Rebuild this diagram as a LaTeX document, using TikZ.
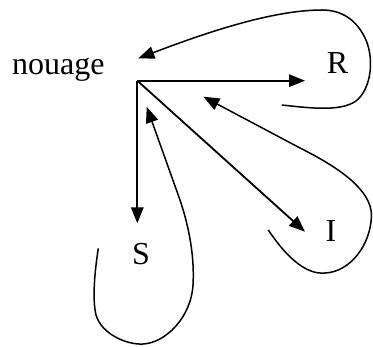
\documentclass[tikz,border=0pt]{standalone}
\usepackage{fontspec}
\setmainfont{Liberation Serif}
\usetikzlibrary{arrows.meta}
\begin{document}
\begin{tikzpicture}[x=1pt,y=-1pt,
  lbl/.style={font=\fontsize{32}{38}\selectfont, inner sep=0pt, anchor=base},
  conn/.style={line width=1.8pt, -{Triangle[length=16pt,width=12.5pt]}},
  loopc/.style={line width=1.5pt, -{Triangle[length=16pt,width=12.5pt]}}]
\useasboundingbox (0,0) rectangle (373,347);
\node[lbl, anchor=base west] (nouage) at (12,75) {nouage};
\node[lbl] (R) at (337.5,73.3) {R};
\node[lbl] (S) at (141,265) {S};
\node[lbl] (I) at (331,241.7) {I};
\coordinate (O) at (137.3,80.7);
\coordinate (tR) at (305,80.7);
\coordinate (tS) at (137.3,223.3);
\coordinate (tI) at (305,231.7);
\coordinate (tN) at (138.3,58.3);
\coordinate (tO2) at (203.3,96.7);
\coordinate (tO3) at (146.7,106.7);
\coordinate (eR) at (281.7,105);
\coordinate (eI) at (268.3,230);
\coordinate (eS) at (98.3,248.3);
% straight arrows
\draw[conn] (O) -- (tR);
\draw[conn] (O) -- (tS);
\draw[conn] (O) -- (tI);
% R loop
\draw[loopc] (eR) .. controls (310,108) and (340,112) .. (356,101)
  .. controls (370,90) and (375,62) .. (366,40)
  .. controls (357,20) and (342,10) .. (322,10)
  .. controls (270,10) and (200,35) .. (tN);
% I loop
\draw[loopc] (eI) .. controls (285,255) and (305,275) .. (325,273)
  .. controls (350,272) and (371,245) .. (371.5,215)
  .. controls (371,190) and (340,168) .. (300,148) -- (tO2);
% S loop
\draw[loopc] (eS) .. controls (95,270) and (92,298) .. (96,315)
  .. controls (102,335) and (128,345) .. (143,344)
  .. controls (165,343) and (191,318) .. (193,285)
  .. controls (195,250) and (186,218) .. (180,200) -- (tO3);
\end{tikzpicture}
\end{document}
